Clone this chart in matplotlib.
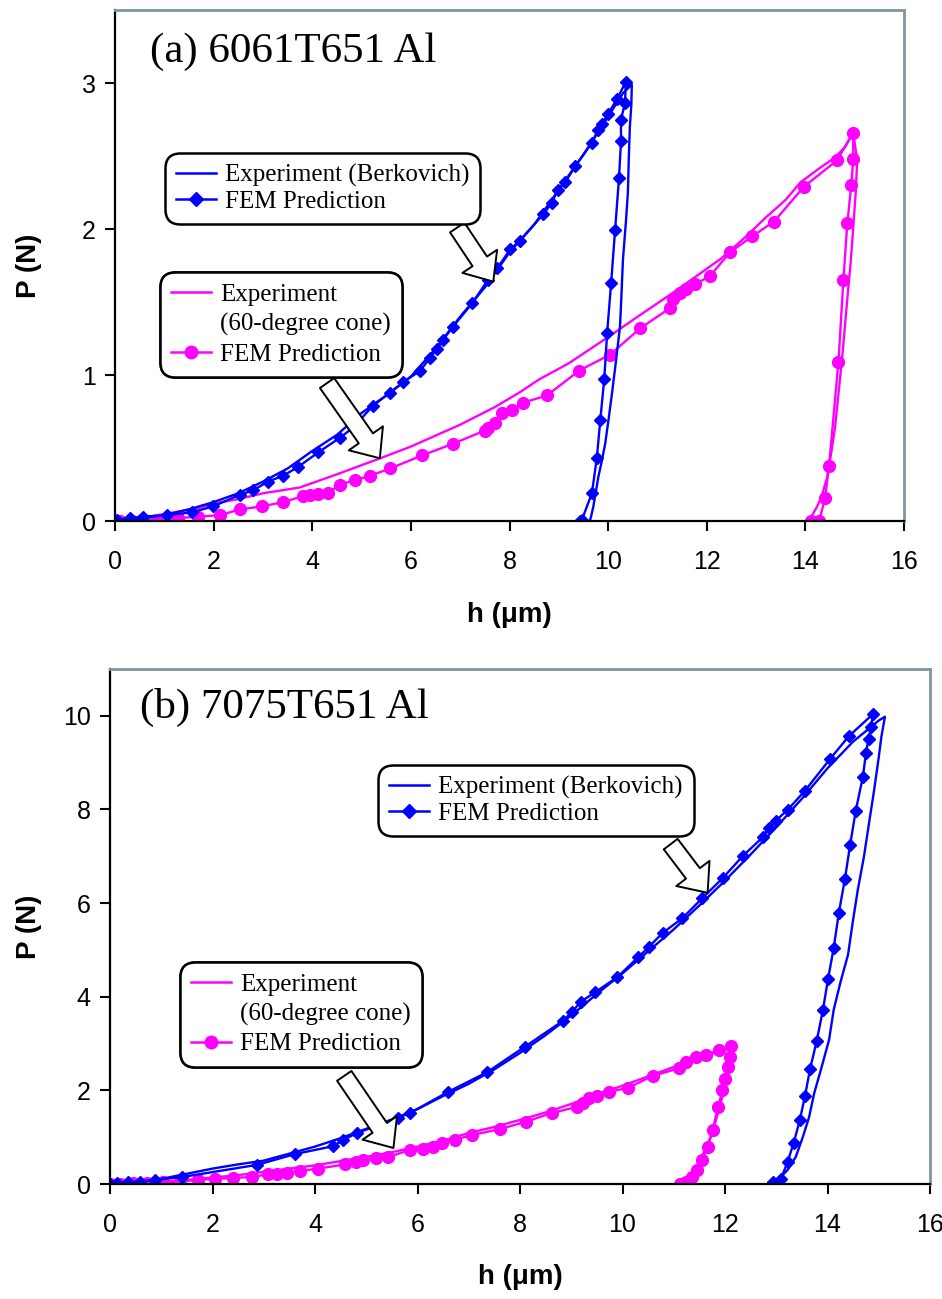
import matplotlib
matplotlib.use("Agg")
from matplotlib import pyplot as plt
from matplotlib.lines import Line2D
from matplotlib.font_manager import FontProperties

# ---------------- data ----------------
# (a) 6061T651 Al, Berkovich
a_ber_exp_h = [0, 0.3, 0.6, 1.0, 1.5, 2.0, 2.5, 3.0, 3.5, 4.0, 4.5, 5.0, 5.5, 6.0, 6.5, 7.0, 7.5, 8.0,
               8.5, 9.0, 9.5, 10.0, 10.3, 10.48,
               10.47, 10.44, 10.42, 10.40, 10.36, 10.30, 10.27, 10.24, 10.16, 10.08, 10.01, 9.94, 9.87,
               9.80, 9.74, 9.70, 9.66, 9.63]
a_ber_exp_p = [0, 0.01, 0.02, 0.04, 0.08, 0.13, 0.19, 0.27, 0.36, 0.48, 0.59, 0.74, 0.86, 0.99, 1.18, 1.40,
               1.60, 1.84, 2.03, 2.27, 2.51, 2.77, 2.93, 2.99,
               2.85, 2.70, 2.50, 2.25, 2.05, 1.79, 1.55, 1.33, 1.10, 0.88, 0.70, 0.53, 0.41,
               0.30, 0.18, 0.10, 0.04, 0.0]
a_ber_fem_h = [0.0, 0.04, 0.30, 0.57, 1.05, 1.56, 1.99, 2.53, 2.80, 3.10, 3.41, 3.71, 4.12, 4.56, 4.83,
               5.23, 5.58, 5.84, 6.19, 6.39, 6.53, 6.65, 6.85, 7.24, 7.56, 7.75, 8.01, 8.21, 8.68, 8.86,
               8.98, 9.13, 9.33, 9.67, 9.80, 9.88, 10.0, 10.18, 10.36,
               10.34, 10.26, 10.26, 10.22, 10.14, 10.06, 9.98, 9.92, 9.84, 9.77, 9.67, 9.47, 9.43]
a_ber_fem_p = [0.0, 0.01, 0.02, 0.03, 0.04, 0.06, 0.10, 0.18, 0.21, 0.27, 0.31, 0.37, 0.47, 0.57, 0.64,
               0.79, 0.88, 0.95, 1.03, 1.12, 1.18, 1.24, 1.33, 1.49, 1.65, 1.73, 1.86, 1.92, 2.10, 2.18,
               2.27, 2.32, 2.43, 2.59, 2.68, 2.72, 2.79, 2.89, 3.01,
               2.86, 2.75, 2.60, 2.35, 1.99, 1.63, 1.29, 0.97, 0.69, 0.43, 0.19, 0.01, 0.0]

# (a) 6061T651 Al, 60-degree cone
a_cone_exp_h = [0, 0.3, 0.7, 1.2, 1.7, 2.0, 2.5, 3.0, 3.75, 4.5, 5.3, 6.0, 6.4, 7.0, 7.7, 8.2, 8.6, 9.2,
                10.0, 10.6, 11.3, 11.8, 12.3, 12.8, 13.2, 13.6, 13.9, 14.3, 14.6, 14.8, 14.97,
                15.05, 15.02, 14.97, 14.92, 14.86, 14.80, 14.74, 14.67, 14.60, 14.52, 14.44, 14.34,
                14.24, 14.12, 14.05]
a_cone_exp_p = [0, 0.01, 0.03, 0.06, 0.09, 0.12, 0.15, 0.19, 0.23, 0.32, 0.42, 0.51, 0.57, 0.66, 0.78,
                0.88, 0.97, 1.08, 1.26, 1.40, 1.56, 1.68, 1.80, 1.95, 2.08, 2.20, 2.32, 2.42, 2.49,
                2.56, 2.66,
                2.47, 2.25, 2.01, 1.78, 1.56, 1.33, 1.10, 0.87, 0.64, 0.46, 0.30, 0.18, 0.10, 0.03, 0.0]
a_cone_fem_h = [0.0, 0.10, 0.34, 0.55, 0.85, 1.28, 1.68, 2.13, 2.53, 2.98, 3.41, 3.81, 3.95, 4.12, 4.32,
                4.56, 4.87, 5.17, 5.58, 6.23, 6.86, 7.50, 7.57, 7.71, 7.85, 8.05, 8.27, 8.76, 9.41,
                10.04, 10.65, 11.26, 11.32, 11.46, 11.58, 11.76, 12.07, 12.47, 12.92, 13.36, 13.97,
                14.64, 14.97,
                14.97, 14.93, 14.85, 14.77, 14.67, 14.48, 14.40, 14.28, 14.11]
a_cone_fem_p = [0.0, 0.0, 0.0, 0.01, 0.01, 0.02, 0.03, 0.04, 0.08, 0.10, 0.13, 0.17, 0.18, 0.185, 0.19,
                0.25, 0.28, 0.31, 0.36, 0.45, 0.53, 0.62, 0.64, 0.67, 0.74, 0.76, 0.81, 0.86, 1.03,
                1.14, 1.32, 1.46, 1.52, 1.56, 1.59, 1.62, 1.68, 1.84, 1.95, 2.05, 2.29, 2.47, 2.66,
                2.48, 2.30, 2.04, 1.65, 1.09, 0.38, 0.16, 0.0, 0.0]

# (b) 7075T651 Al, Berkovich
b_ber_exp_h = [0, 0.5, 1.0, 1.5, 2.0, 2.5, 3.0, 3.5, 4.0, 4.5, 5.0, 5.5, 6.0, 6.5, 7.0, 7.5, 8.0, 8.5,
               9.0, 9.5, 10.0, 10.5, 11.0, 11.5, 12.0, 12.5, 13.0, 13.5, 14.0, 14.5, 15.0, 15.12,
               15.05, 15.0, 14.91, 14.81, 14.71, 14.59, 14.49, 14.40, 14.25, 14.12, 14.03, 13.87,
               13.74, 13.64, 13.52, 13.38, 13.22, 13.03, 12.86]
b_ber_exp_p = [0, 0.04, 0.11, 0.22, 0.33, 0.42, 0.50, 0.65, 0.80, 0.98, 1.18, 1.38, 1.60, 1.88, 2.14,
               2.45, 2.80, 3.18, 3.60, 4.06, 4.50, 4.97, 5.44, 5.95, 6.48, 7.04, 7.62, 8.23, 8.88,
               9.45, 9.90, 9.98,
               9.55, 9.12, 8.42, 7.71, 6.99, 6.28, 5.58, 4.90, 4.30, 3.72, 3.08, 2.44, 1.94, 1.43,
               1.01, 0.58, 0.30, 0.09, 0.04]
b_ber_fem_h = [0.0, 0.13, 0.35, 0.59, 0.88, 1.41, 2.87, 3.61, 4.36, 4.55, 4.82, 5.24, 5.61, 5.86, 6.60,
               7.36, 8.09, 8.83, 9.02, 9.18, 9.47, 9.90, 10.31, 10.51, 10.78, 11.17, 11.56, 11.96,
               12.35, 12.74, 12.85, 12.99, 13.22, 13.56, 14.05, 14.42, 14.89,
               14.85, 14.80, 14.75, 14.69, 14.55, 14.44, 14.34, 14.22, 14.12, 14.01, 13.91, 13.79,
               13.66, 13.56, 13.46, 13.34, 13.22, 13.09, 12.93]
b_ber_fem_p = [0.0, 0.03, 0.04, 0.05, 0.09, 0.15, 0.41, 0.64, 0.81, 0.94, 1.09, 1.26, 1.41, 1.52, 1.97,
               2.39, 2.93, 3.48, 3.68, 3.89, 4.10, 4.42, 4.85, 5.06, 5.36, 5.68, 6.11, 6.54, 7.01,
               7.41, 7.61, 7.76, 7.99, 8.40, 9.08, 9.57, 10.04,
               9.77, 9.51, 9.21, 8.70, 7.97, 7.24, 6.52, 5.79, 5.04, 4.38, 3.72, 3.06, 2.46, 1.88,
               1.37, 0.88, 0.47, 0.11, 0.04]

# (b) 7075T651 Al, 60-degree cone
b_cone_exp_h = [0, 0.5, 1.0, 1.5, 2.0, 2.5, 3.0, 3.5, 4.0, 4.5, 5.0, 5.5, 6.0, 6.5, 7.0, 7.5, 8.0, 8.5,
                9.0, 9.5, 10.0, 10.5, 11.0, 11.5, 11.9, 12.15,
                12.1, 12.05, 12.0, 11.92, 11.82, 11.72, 11.6, 11.48, 11.38, 11.28, 11.18]
b_cone_exp_p = [0, 0.02, 0.05, 0.09, 0.14, 0.19, 0.26, 0.33, 0.40, 0.49, 0.58, 0.68, 0.80, 0.93, 1.09,
                1.22, 1.37, 1.53, 1.71, 1.92, 2.10, 2.30, 2.50, 2.70, 2.84, 2.95,
                2.70, 2.40, 2.10, 1.75, 1.35, 1.00, 0.70, 0.45, 0.25, 0.08, 0.0]
b_cone_fem_h = [0.0, 0.20, 0.45, 0.72, 1.04, 1.37, 1.72, 2.05, 2.40, 2.77, 3.09, 3.26, 3.46, 3.71, 4.06,
                4.59, 4.79, 4.94, 5.18, 5.43, 5.86, 6.11, 6.31, 6.48, 6.74, 7.07, 7.60, 8.11, 8.63,
                9.12, 9.22, 9.34, 9.51, 9.73, 10.10, 10.59, 11.10, 11.23, 11.43, 11.62, 11.88, 12.12,
                12.10, 12.05, 12.0, 11.95, 11.86, 11.76, 11.66, 11.56, 11.45, 11.35, 11.23, 11.12]
b_cone_fem_p = [0.0, 0.01, 0.02, 0.02, 0.04, 0.05, 0.09, 0.11, 0.13, 0.15, 0.21, 0.22, 0.23, 0.28, 0.33,
                0.42, 0.47, 0.51, 0.55, 0.58, 0.73, 0.75, 0.80, 0.87, 0.95, 1.05, 1.17, 1.33, 1.52,
                1.65, 1.74, 1.84, 1.87, 1.97, 2.05, 2.31, 2.47, 2.61, 2.71, 2.76, 2.86, 2.94,
                2.72, 2.50, 2.25, 2.00, 1.64, 1.15, 0.80, 0.52, 0.30, 0.15, 0.04, 0.0]

x_ticks = [0, 2, 4, 6, 8, 10, 12, 14, 16]
a_y_ticks = [0, 1, 2, 3]
b_y_ticks = [0, 2, 4, 6, 8, 10]

BLUE = '#0000ff'
MAGENTA = '#ff00ff'
FRAME = '#7f979e'

serif = 'Liberation Serif'
sans = 'Liberation Sans'
leg_font = FontProperties(family=serif, size=18)


def style_axes(ax, yticks, ylim):
    ax.set_xlim(0, 16)
    ax.set_ylim(*ylim)
    ax.set_xticks(x_ticks)
    ax.set_yticks(yticks)
    for s in ['top', 'right']:
        ax.spines[s].set_color(FRAME)
        ax.spines[s].set_linewidth(2)
    for s in ['left', 'bottom']:
        ax.spines[s].set_color('black')
        ax.spines[s].set_linewidth(1.6)
    ax.tick_params(axis='both', direction='out', length=7, width=1.5, labelsize=18)
    ax.tick_params(axis='x', pad=14)
    ax.tick_params(axis='y', pad=7)
    for lab in ax.get_xticklabels() + ax.get_yticklabels():
        lab.set_fontfamily(sans)
    ax.set_xlabel('h (\u03bcm)', fontsize=20, fontweight='bold', family=sans)
    ax.set_ylabel('P (N)', fontsize=20, fontweight='bold', family=sans)


def box_legend(ax, handles, labels, anchor, spacing):
    leg = ax.legend(handles, labels, loc='upper left', bbox_to_anchor=anchor, prop=leg_font,
                    frameon=True, fancybox=True, framealpha=1, edgecolor='black',
                    handlelength=1.6, handletextpad=0.35, labelspacing=spacing,
                    borderpad=0.45, borderaxespad=0)
    leg.get_frame().set_linewidth(1.8)
    leg.get_frame().set_boxstyle('round', pad=0, rounding_size=0.6)
    ax.add_artist(leg)
    return leg


def block_arrow(ax, tail, tip):
    ax.annotate('', xy=tip, xytext=tail,
                arrowprops=dict(arrowstyle='simple,head_length=0.7,head_width=1.2,tail_width=0.5',
                                fc='white', ec='black', lw=1.4, mutation_scale=25,
                                shrinkA=0, shrinkB=0))


ber_handles = [Line2D([], [], color=BLUE, lw=1.8),
               Line2D([], [], color=BLUE, lw=1.8, marker='D', markersize=7)]
ber_labels = ['Experiment (Berkovich)', 'FEM Prediction']
cone_handles = [Line2D([], [], color=MAGENTA, lw=1.8),
                Line2D([], [], linestyle='none'),
                Line2D([], [], color=MAGENTA, lw=1.8, marker='o', markersize=9)]
cone_labels = ['Experiment', '(60-degree cone)', 'FEM Prediction']

fig = plt.figure(figsize=(9.42, 12.99), dpi=100)

# ---------------- panel (a) ----------------
ax1 = fig.add_axes([0.1221, 0.5989, 0.8376, 0.3934])
ax1.plot(a_cone_exp_h, a_cone_exp_p, color=MAGENTA, lw=1.7)
ax1.plot(a_cone_fem_h, a_cone_fem_p, color=MAGENTA, lw=1.7, marker='o', markersize=8.5)
ax1.plot(a_ber_exp_h, a_ber_exp_p, color=BLUE, lw=1.7)
ax1.plot(a_ber_fem_h, a_ber_fem_p, color=BLUE, lw=1.7, marker='D', markersize=6.5)
style_axes(ax1, a_y_ticks, (0, 3.5))
ax1.xaxis.set_label_coords(0.5, -0.158)
ax1.yaxis.set_label_coords(-0.092, 0.5)
ax1.text(0.044, 0.918, '(a) 6061T651 Al', transform=ax1.transAxes, family=serif,
         fontsize=31, va='center', ha='left')
box_legend(ax1, ber_handles, ber_labels, (0.063, 0.720), 0.12)
box_legend(ax1, cone_handles, cone_labels, (0.057, 0.487), 0.28)
block_arrow(ax1, (6.94, 2.01), (7.67, 1.64))
block_arrow(ax1, (4.30, 0.945), (5.37, 0.43))

# ---------------- panel (b) ----------------
ax2 = fig.add_axes([0.1168, 0.0885, 0.8705, 0.3965])
ax2.plot(b_cone_exp_h, b_cone_exp_p, color=MAGENTA, lw=1.7)
ax2.plot(b_cone_fem_h, b_cone_fem_p, color=MAGENTA, lw=1.7, marker='o', markersize=8.5)
ax2.plot(b_ber_exp_h, b_ber_exp_p, color=BLUE, lw=1.7)
ax2.plot(b_ber_fem_h, b_ber_fem_p, color=BLUE, lw=1.7, marker='D', markersize=6.5)
style_axes(ax2, b_y_ticks, (0, 11))
ax2.xaxis.set_label_coords(0.5, -0.155)
ax2.yaxis.set_label_coords(-0.083, 0.5)
ax2.text(0.037, 0.926, '(b) 7075T651 Al', transform=ax2.transAxes, family=serif,
         fontsize=31, va='center', ha='left')
box_legend(ax2, ber_handles, ber_labels, (0.327, 0.814), 0.12)
box_legend(ax2, cone_handles, cone_labels, (0.085, 0.431), 0.28)
block_arrow(ax2, (10.94, 7.26), (11.66, 6.22))
block_arrow(ax2, (4.57, 2.31), (5.53, 0.77))

fig.savefig('out.png', dpi=100)
